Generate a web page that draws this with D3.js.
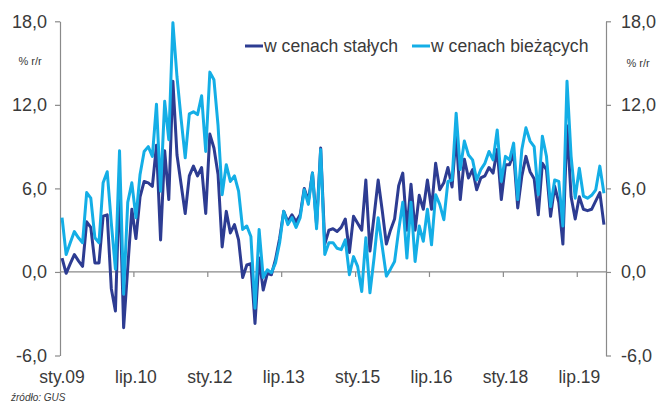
<!DOCTYPE html>
<html>
<head>
<meta charset="utf-8">
<script src="https://cdn.jsdelivr.net/npm/d3@7"></script>
<style>
  html, body { margin: 0; padding: 0; background: #ffffff; }
  svg { display: block; }
  text { font-family: "Liberation Sans", Arial, sans-serif; }
</style>
</head>
<body>
<svg id="chart" width="656" height="403"></svg>
<script>
const monthNames = ["sty","lut","mar","kwi","maj","cze","lip","sie","wrz","paź","lis","gru"];
const categories = d3.range(133).map(i => monthNames[i % 12] + "." + String(9 + Math.floor(i / 12)).padStart(2, "0"));

const tickLabels = ["sty.09","lip.10","sty.12","lip.13","sty.15","lip.16","sty.18","lip.19"];
const yTicks = [-6, 0, 6, 12, 18];

const seriesNames = ["w cenach stałych", "w cenach bieżących"];

const constantPrices = [
  1.0, -0.1, 0.6, 1.25, 0.8, 0.4, 3.6, 3.2, 0.65, 0.65, 4.0, 4.1,
  -1.2, -2.8, 6.5, -4.0, 0.3, 4.5, 2.4, 5.4, 6.5, 6.4, 6.15, 9.1,
  2.3, 8.7, 5.2, 13.7, 8.4, 6.3, 4.2, 6.9, 7.6, 6.9, 7.5, 4.2,
  9.9, 8.9, 7.0, 1.8, 4.35, 2.8, 3.4, 2.3, -0.4, 0.5, 0.6, -3.7,
  1.0, -1.3, -0.1, -0.2, 0.9, 2.4, 4.35, 3.6, 4.1, 3.6, 4.1, 6.0,
  5.1, 7.1, 3.4, 8.9, 2.0, 3.0, 3.1, 2.9, 3.2, 3.8, 1.4, 4.0,
  3.5, 3.0, 6.6, 1.5, 4.0, 6.6, 4.4, 2.0, 3.0, 3.8, 6.2, 7.1,
  3.0, 6.3, 3.0, 5.5, 4.5, 6.6, 4.5, 7.8, 5.9, 6.4, 7.5, 6.1,
  9.9, 5.2, 8.1, 6.75, 7.35, 5.9, 6.75, 6.9, 7.5, 7.1, 8.8, 5.2,
  7.7, 7.7, 8.55, 4.6, 6.9, 8.3, 7.2, 6.7, 4.1, 7.8, 7.35, 4.0,
  6.15, 5.0, 2.0, 10.5, 5.4, 3.8, 5.4, 4.5, 4.4, 4.5, 5.1, 5.7,
  3.4
];

const currentPrices = [
  3.9, 1.25, 2.1, 2.9, 2.45, 2.1, 5.7, 5.3, 2.45, 2.1, 6.4, 7.2,
  3.5, 0.2, 8.7, -1.6, 5.0, 6.4, 3.9, 7.0, 8.65, 9.0, 8.3, 12.05,
  5.8, 12.25, 9.5, 17.9, 14.0, 11.0, 8.2, 11.35, 11.5, 11.3, 12.65, 8.65,
  14.35, 13.8, 10.5, 5.55, 7.7, 6.5, 6.9, 5.8, 3.05, 3.3, 2.55, -2.6,
  3.05, -0.4, 0.15, -0.05, 0.65, 2.1, 4.35, 3.4, 3.9, 3.2, 3.9, 5.9,
  4.85, 7.1, 3.1, 8.8, 1.25, 2.1, 2.1, 1.7, 1.6, 2.3, -0.2, 1.1,
  0.4, -1.4, 2.45, -1.5, 1.0, 3.9, 1.8, -0.3, 0.2, 0.75, 3.0, 5.0,
  1.0, 5.0, 0.75, 3.3, 2.2, 4.5, 1.95, 5.55, 4.85, 3.75, 6.5, 6.6,
  11.4, 7.35, 9.4, 8.4, 8.05, 6.6, 7.35, 7.8, 8.65, 8.05, 10.2, 6.5,
  8.3, 8.05, 9.25, 5.2, 8.8, 10.35, 9.4, 9.0, 5.55, 9.75, 8.3, 4.7,
  6.6, 6.5, 3.3, 13.7, 8.3, 5.3, 7.45, 5.45, 5.3, 5.5, 5.9, 7.6,
  5.65
];

const colors = ["#2d3c92", "#14aee6"];
const axisColor = "#8a8a8a";
const textColor = "#3a3a3a";

const svg = d3.select("#chart");
const plotLeft = 60, plotRight = 606, plotTop = 21.3, plotBottom = 355.5;

const x = d3.scaleBand().domain(categories).range([plotLeft, plotRight]).paddingInner(0).paddingOuter(0);
const y = d3.scaleLinear().domain([-6, 18]).range([plotBottom, plotTop]);
const cx = c => x(c) + x.bandwidth() / 2;

svg.append("rect").attr("width", 656).attr("height", 403).attr("fill", "#ffffff");

const fmt = d => d.toFixed(1).replace(".", ",");
const gL = svg.append("g").attr("transform", `translate(${plotLeft},0)`)
  .call(d3.axisLeft(y).tickValues(yTicks).tickFormat(fmt).tickSize(5).tickSizeOuter(0).tickPadding(8));
const gR = svg.append("g").attr("transform", `translate(${plotRight},0)`)
  .call(d3.axisRight(y).tickValues(yTicks).tickFormat(fmt).tickSize(5).tickSizeOuter(0).tickPadding(10));
[gL, gR].forEach(g => {
  g.select(".domain").attr("stroke", axisColor).attr("stroke-width", 1.2);
  g.selectAll(".tick line").attr("stroke", axisColor).attr("stroke-width", 1.2);
  g.selectAll(".tick text").attr("fill", textColor).style("font-size", "18px")
    .style("font-family", "'Liberation Sans', Arial, sans-serif");
});

// zero line
svg.append("line")
  .attr("x1", plotLeft).attr("x2", plotRight)
  .attr("y1", y(0)).attr("y2", y(0))
  .attr("stroke", axisColor).attr("stroke-width", 1.2);

// x ticks on zero line
svg.selectAll(".xtick").data(tickLabels.slice(1)).enter().append("line")
  .attr("x1", d => x(d)).attr("x2", d => x(d))
  .attr("y1", y(0)).attr("y2", y(0) + 5)
  .attr("stroke", axisColor).attr("stroke-width", 1.2);

// x labels
svg.selectAll(".xlab").data(tickLabels).enter().append("text")
  .attr("x", d => cx(d)).attr("y", 383)
  .attr("text-anchor", "middle")
  .attr("fill", textColor)
  .style("font-size", "17.5px")
  .text(d => d);

// unit labels
svg.append("text").attr("x", 30).attr("y", 65).attr("text-anchor", "middle")
  .attr("fill", textColor).style("font-size", "11px").text("% r/r");
svg.append("text").attr("x", 638).attr("y", 67).attr("text-anchor", "middle")
  .attr("fill", textColor).style("font-size", "11px").text("% r/r");

// lines
const series = [constantPrices, currentPrices];
const line = d3.line().x((d, i) => cx(categories[i])).y(d => y(d)).curve(d3.curveLinear);
series.forEach((s, k) => {
  svg.append("path").datum(s)
    .attr("fill", "none")
    .attr("stroke", colors[k])
    .attr("stroke-width", 3)
    .attr("stroke-linejoin", "round")
    .attr("d", line);
});

// legend
const legendX = [245, 412];
seriesNames.forEach((n, k) => {
  svg.append("line").attr("x1", legendX[k]).attr("x2", legendX[k] + 18)
    .attr("y1", 46).attr("y2", 46).attr("stroke", colors[k]).attr("stroke-width", 3);
  svg.append("text").attr("x", legendX[k] + 19).attr("y", 52)
    .attr("fill", textColor).style("font-size", "17.6px").text(n);
});

// source
svg.append("text").attr("x", 11).attr("y", 401)
  .attr("fill", textColor).style("font-size", "10px").style("font-style", "italic")
  .text("źródło: GUS");
</script>
</body>
</html>
